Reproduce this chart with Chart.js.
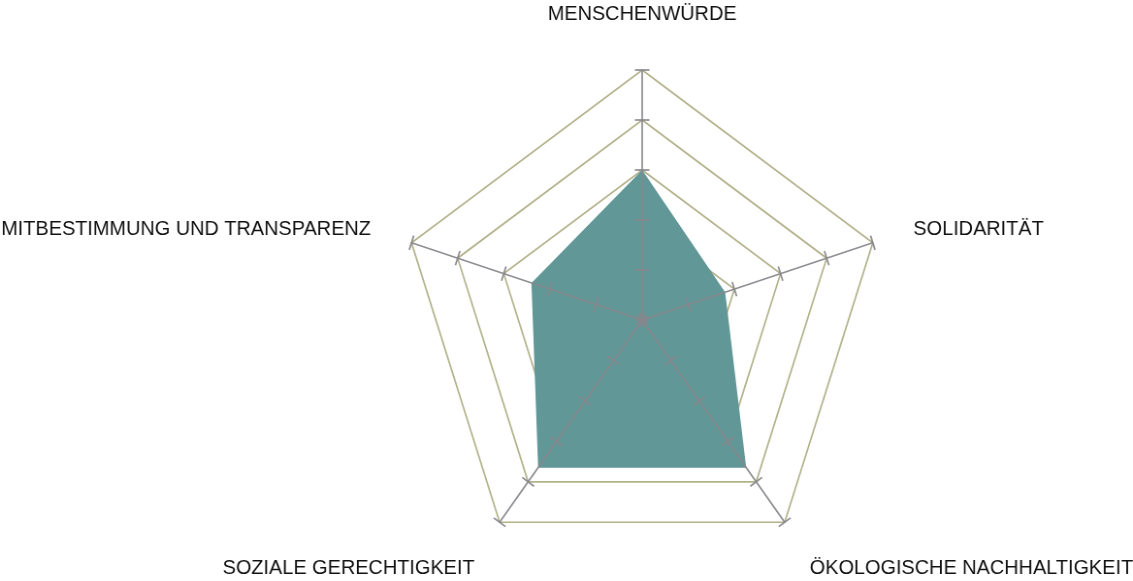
<!DOCTYPE html>
<html>
<head>
<meta charset="utf-8">
<script src="https://cdn.jsdelivr.net/npm/chart.js@4/dist/chart.umd.min.js"></script>
<style>
  html, body { margin: 0; padding: 0; background: #ffffff; overflow: hidden; }
  #wrap { width: 1168px; height: 581px; transform: scaleX(0.97); transform-origin: 0 0; }
  canvas { display: block; }
</style>
</head>
<body>
<div id="wrap"><canvas id="c" width="1168" height="581"></canvas></div>
<script>
const categories = ['MENSCHENWÜRDE', 'SOLIDARITÄT', 'ÖKOLOGISCHE NACHHALTIGKEIT', 'SOZIALE GERECHTIGKEIT', 'MITBESTIMMUNG UND TRANSPARENZ'];
const values = [3.0, 1.8, 3.65, 3.65, 2.4];
const tickValues = [0, 1, 2, 3, 4, 5];
const scaleMin = 0;
const scaleMax = 5;

const axisOnTop = {
  id: 'axisOnTop',
  afterDatasetsDraw(chart) {
    const s = chart.scales.r;
    const ctx = chart.ctx;
    ctx.save();
    ctx.strokeStyle = 'rgba(135,135,140,0.95)';
    ctx.lineWidth = 1.7;
    for (let i = 0; i < categories.length; i++) {
      const p0 = s.getPointPositionForValue(i, scaleMin);
      const p1 = s.getPointPositionForValue(i, scaleMax);
      ctx.beginPath();
      ctx.moveTo(p0.x, p0.y);
      ctx.lineTo(p1.x, p1.y);
      ctx.stroke();
      const dx = p1.x - p0.x, dy = p1.y - p0.y;
      const len = Math.hypot(dx, dy);
      const nx = -dy / len, ny = dx / len;
      const half = 7.5;
      tickValues.forEach(v => {
        const p = s.getPointPositionForValue(i, v);
        ctx.beginPath();
        ctx.moveTo(p.x - nx * half, p.y - ny * half);
        ctx.lineTo(p.x + nx * half, p.y + ny * half);
        ctx.stroke();
      });
    }
    ctx.restore();
  },
  afterDraw(chart) {
    const s = chart.scales.r;
    const ctx = chart.ctx;
    const pad = 44;
    ctx.save();
    ctx.font = '20.5px "Liberation Sans", Arial, sans-serif';
    ctx.fillStyle = '#111111';
    ctx.textBaseline = 'middle';
    chart.data.labels.forEach((lab, i) => {
      const p = s.getPointPosition(i, s.drawingArea + pad);
      const dx = p.x - s.xCenter;
      const dy = p.y - s.yCenter;
      ctx.textAlign = Math.abs(dx) < 1 ? 'center' : (dx > 0 ? 'left' : 'right');
      let y = p.y;
      if (Math.abs(dx) < 1 && dy < 0) y = p.y - 12;
      else if (dy > 0) y = p.y + 10;
      ctx.fillText(lab, p.x, y);
    });
    ctx.restore();
  }
};

new Chart(document.getElementById('c'), {
  type: 'radar',
  data: {
    labels: categories,
    datasets: [{
      data: values,
      backgroundColor: '#619797',
      borderWidth: 0,
      pointRadius: 0,
      pointHoverRadius: 0,
      fill: true
    }]
  },
  options: {
    responsive: false,
    animation: false,
    devicePixelRatio: 1,
    layout: { padding: { left: 362, right: 206, top: 70, bottom: 11 } },
    plugins: { legend: { display: false }, tooltip: { enabled: false } },
    scales: {
      r: {
        min: scaleMin,
        max: scaleMax,
        ticks: { display: false, stepSize: 1 },
        grid: { color: '#b3b28c', lineWidth: 1.7 },
        angleLines: { display: false },
        pointLabels: { display: false }
      }
    }
  },
  plugins: [axisOnTop]
});
</script>
</body>
</html>
